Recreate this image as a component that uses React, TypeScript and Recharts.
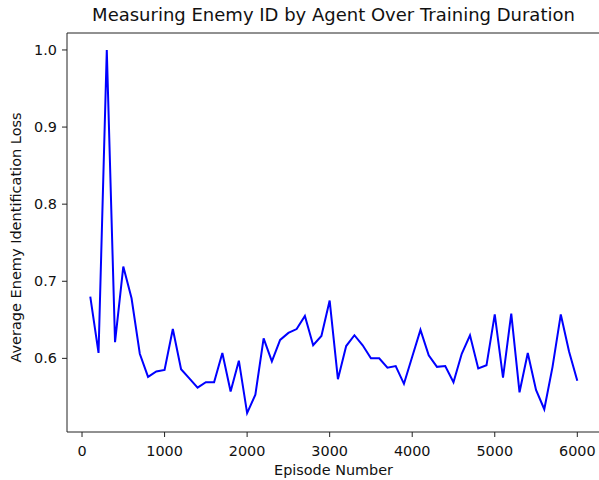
import React from "react";
import { LineChart, Line, XAxis, YAxis } from "recharts";

const episodes = [
  100, 200, 300, 400, 500, 600, 700, 800, 900, 1000,
  1100, 1200, 1300, 1400, 1500, 1600, 1700, 1800, 1900, 2000,
  2100, 2200, 2300, 2400, 2500, 2600, 2700, 2800, 2900, 3000,
  3100, 3200, 3300, 3400, 3500, 3600, 3700, 3800, 3900, 4000,
  4100, 4200, 4300, 4400, 4500, 4600, 4700, 4800, 4900, 5000,
  5100, 5200, 5300, 5400, 5500, 5600, 5700, 5800, 5900, 6000,
];

const losses = [
  0.68, 0.607, 1.0, 0.621, 0.719, 0.678, 0.606, 0.576, 0.583, 0.585,
  0.638, 0.586, 0.574, 0.562, 0.569, 0.569, 0.607, 0.557, 0.597, 0.529,
  0.553, 0.626, 0.596, 0.624, 0.633, 0.638, 0.655, 0.617, 0.629, 0.675,
  0.573, 0.616, 0.63, 0.617, 0.6, 0.6, 0.588, 0.59, 0.567, 0.602,
  0.637, 0.604, 0.589, 0.59, 0.569, 0.606, 0.63, 0.587, 0.591, 0.657,
  0.575, 0.658, 0.556, 0.607, 0.559, 0.534, 0.589, 0.657, 0.609, 0.571,
];

const xTicks = [0, 1000, 2000, 3000, 4000, 5000, 6000];
const yTicks = [0.6, 0.7, 0.8, 0.9, 1.0];

const title = "Measuring Enemy ID by Agent Over Training Duration";
const xLabel = "Episode Number";
const yLabel = "Average Enemy Identification Loss";

const data = episodes.map((e, i) => ({ episode: e, loss: losses[i] }));

const FONT = "'DejaVu Sans', sans-serif";
const TXT = "#111";
const AX = "#222";

export default function App() {
  return (
    <div
      style={{
        position: "absolute",
        left: 0,
        top: 0,
        width: 599,
        height: 480,
        overflow: "hidden",
        background: "#fff",
        fontFamily: FONT,
      }}
    >
      <LineChart
        width={600}
        height={480}
        data={data}
        margin={{ top: 0, right: 0, bottom: 0, left: 0 }}
      >
        <XAxis
          xAxisId="top"
          orientation="top"
          dataKey="episode"
          type="number"
          domain={[-182, 6275]}
          allowDataOverflow
          height={33}
          tick={false}
          tickLine={false}
          axisLine={{ stroke: AX, strokeWidth: 1 }}
          label={{
            content: (props: any) => {
              const vb = props.viewBox || {};
              return (
                <text
                  x={vb.x + vb.width / 2}
                  y={21}
                  textAnchor="middle"
                  fontSize={18}
                  fill={TXT}
                  fontFamily={FONT}
                >
                  {title}
                </text>
              );
            },
          }}
        />
        <XAxis
          dataKey="episode"
          type="number"
          domain={[-182, 6275]}
          allowDataOverflow
          ticks={xTicks}
          height={48}
          tickSize={5}
          tickMargin={9}
          tick={{ fontSize: 14.4, fill: TXT, fontFamily: FONT }}
          tickLine={{ stroke: AX }}
          axisLine={{ stroke: AX, strokeWidth: 1 }}
          label={{
            value: xLabel,
            position: "insideBottom",
            offset: 5,
            fontSize: 14.4,
            fill: TXT,
            fontFamily: FONT,
          }}
        />
        <YAxis
          type="number"
          domain={[0.5045, 1.022]}
          allowDataOverflow
          ticks={yTicks}
          width={67}
          tickSize={5}
          tickMargin={5}
          tickFormatter={(v: number) => v.toFixed(1)}
          tick={{ fontSize: 14.4, fill: TXT, fontFamily: FONT }}
          tickLine={{ stroke: AX }}
          axisLine={{ stroke: AX, strokeWidth: 1 }}
          label={{
            value: yLabel,
            angle: -90,
            position: "center",
            dx: -18,
            dy: 5,
            fontSize: 14.5,
            fill: TXT,
            fontFamily: FONT,
          }}
        />
        <Line
          type="linear"
          dataKey="loss"
          stroke="#0000ff"
          strokeWidth={2}
          dot={false}
          isAnimationActive={false}
        />
      </LineChart>
    </div>
  );
}
